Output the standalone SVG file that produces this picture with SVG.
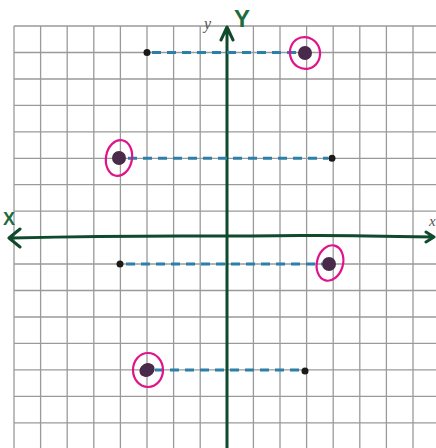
<svg xmlns="http://www.w3.org/2000/svg" width="436" height="448" viewBox="0 0 436 448">
<style>
.grid{stroke:#9a9a9a;stroke-width:1.3;fill:none}
.axis{stroke:#0f4a2c;stroke-width:3;fill:none;stroke-linecap:round;stroke-linejoin:round}
.dash{stroke:#2b7fa8;stroke-width:3;stroke-dasharray:9 6;fill:none}
.ring{stroke:#e0138c;stroke-width:2.2;fill:none}
.big{fill:#4a2a4a}
.small{fill:#1a1a1a}
</style>
<rect width="436" height="448" fill="#ffffff"/>
<g id="grid">
<path class="grid" d="M14 26V448M40.6 26V448M67.2 26V448M93.8 26V448M120.4 26V448M147 26V448M173.6 26V448M200.2 26V448M253.4 26V448M280 26V448M306.6 26V448M333.2 26V448M359.8 26V448M386.4 26V448M413 26V448
M14 26H436M14 52.5H436M14 79H436M14 105.4H436M14 131.8H436M14 158.3H436M14 184.7H436M14 211.2H436M14 264H436M14 290.5H436M14 317H436M14 343.4H436M14 369.9H436M14 396.3H436M14 422.8H436"/>
</g>
<g id="axes">
<path class="axis" d="M227 448V28M221 40L227 27L233 40"/>
<path class="axis" d="M12 238Q100 236 180 236T300 235.5T434 237M20 229L9 238L20 247M426 232L434 237L426 242"/>
<text x="204" y="29" font-family="Liberation Serif, serif" font-style="italic" font-size="16" fill="#555">y</text>
<text x="234" y="27" font-family="Liberation Sans, sans-serif" font-weight="bold" font-size="24" fill="#1d6b3e">Y</text>
<text x="3" y="225" font-family="Liberation Sans, sans-serif" font-weight="bold" font-size="18" fill="#1d6b3e">X</text>
<text x="429" y="226" font-family="Liberation Serif, serif" font-style="italic" font-size="15" fill="#555">x</text>
</g>
<g id="connectors">
<path class="dash" d="M152 52.5H296"/>
<path class="dash" d="M128 158.3H328"/>
<path class="dash" d="M126 264H322"/>
<path class="dash" d="M155 370H301"/>
</g>
<g id="p1">
<circle class="small" cx="147" cy="52.5" r="3.5"/>
<ellipse class="big" cx="305" cy="53" rx="7" ry="7"/>
<ellipse class="ring" cx="305" cy="53" rx="15" ry="16" transform="rotate(-15 305 53)"/>
</g>
<g id="p2">
<ellipse class="big" cx="119" cy="158" rx="7" ry="7"/>
<ellipse class="ring" cx="119" cy="158" rx="13" ry="18" transform="rotate(10 119 158)"/>
<circle class="small" cx="332" cy="158.3" r="3.5"/>
</g>
<g id="p3">
<circle class="small" cx="120" cy="264" r="3.5"/>
<ellipse class="big" cx="329" cy="264" rx="7" ry="7"/>
<ellipse class="ring" cx="330" cy="263" rx="13" ry="18" transform="rotate(15 330 263)"/>
</g>
<g id="p4">
<ellipse class="big" cx="147" cy="370" rx="8" ry="6.5" transform="rotate(-30 147 370)"/>
<ellipse class="ring" cx="148" cy="370" rx="15" ry="17"/>
<circle class="small" cx="305" cy="371" r="3.5"/>
</g>
</svg>
